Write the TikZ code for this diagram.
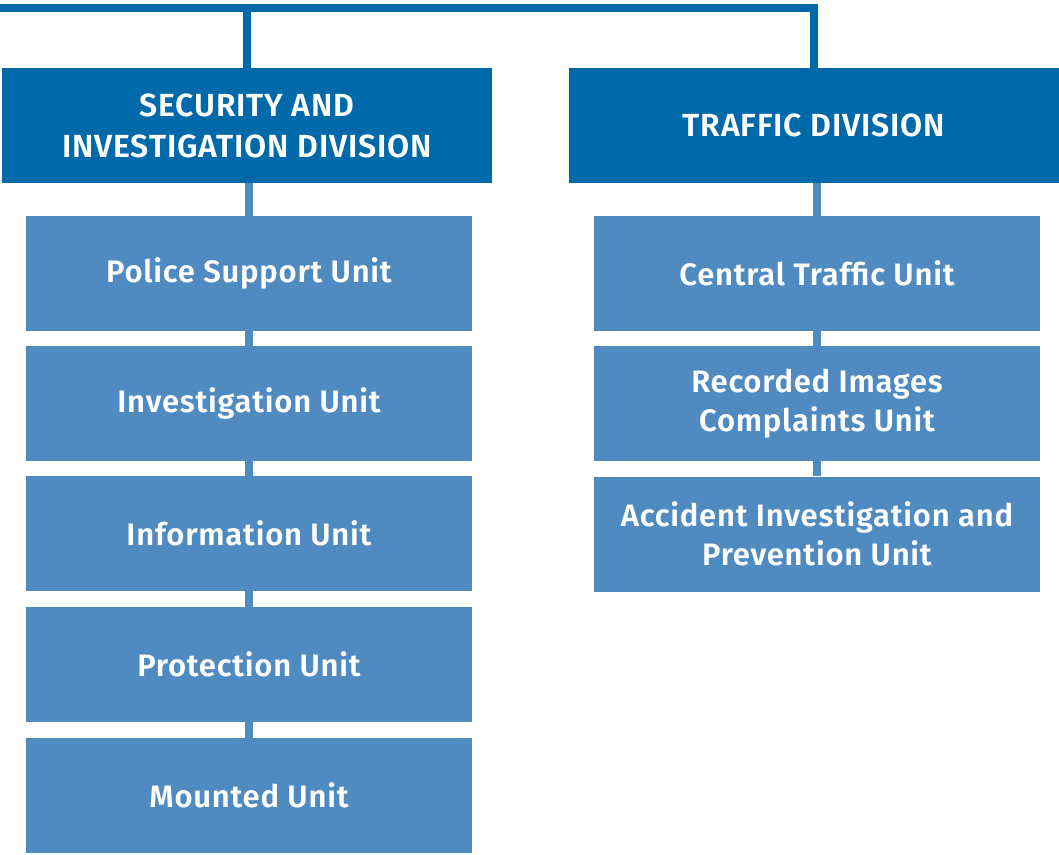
\documentclass[tikz,border=0pt]{standalone}
\usepackage{fontspec}
\setmainfont{Fira Sans}[BoldFont={Fira Sans SemiBold}, LetterSpace=2.5]
\usetikzlibrary{positioning}

\definecolor{divBlue}{RGB}{0,105,170}
\definecolor{unitBlue}{RGB}{79,139,192}

\begin{document}
\begin{tikzpicture}[
    x=1pt, y=-1pt,
    font=\fontsize{31pt}{39pt}\selectfont\bfseries,
    division/.style={
        rectangle,
        fill=divBlue,
        text=white,
        align=center,
        inner sep=0pt,
        minimum width=490pt,
        minimum height=115pt,
        font=\fontsize{32pt}{41pt}\selectfont\bfseries
    },
    unit/.style={
        rectangle,
        fill=unitBlue,
        text=white,
        align=center,
        inner sep=0pt,
        minimum width=446pt,
        minimum height=115pt
    },
    topLine/.style={
        draw=divBlue,
        line width=8pt
    },
    unitLine/.style={
        draw=unitBlue,
        line width=8pt
    }
]
\useasboundingbox (0,0) rectangle (1059,854);

% ==================== DIVISIONS ====================
\node[division] (divSec) at (247, 125.5) {SECURITY AND\\INVESTIGATION DIVISION};
\node[division] (divTraffic) at (814, 125.5) {TRAFFIC DIVISION};

\coordinate (topLeft) at (0, 7.5);
\draw[topLine] (topLeft) -| (divTraffic.north);
\draw[topLine] (divSec.north) -- (divSec.north |- topLeft);

% ==================== SECURITY UNITS ====================
\node[unit] (unitSupport) at (249, 273.5) {Police Support Unit};
\node[unit] (unitInvest) at (249, 403.5) {Investigation Unit};
\node[unit] (unitInfo) at (249, 533.5) {Information Unit};
\node[unit] (unitProtect) at (249, 664.5) {Protection Unit};
\node[unit] (unitMounted) at (249, 795.5) {Mounted Unit};

\draw[unitLine] (divSec.south -| unitSupport) -- (unitSupport.north);
\draw[unitLine] (unitSupport) -- (unitInvest);
\draw[unitLine] (unitInvest) -- (unitInfo);
\draw[unitLine] (unitInfo) -- (unitProtect);
\draw[unitLine] (unitProtect) -- (unitMounted);

% ==================== TRAFFIC UNITS ====================
\node[unit] (unitCentral) at (817, 273.5) {Central Traffic Unit};
\node[unit] (unitImages) at (817, 403.5) {Recorded Images\\Complaints Unit};
\node[unit] (unitAccident) at (817, 534) {Accident Investigation and\\Prevention Unit};

\draw[unitLine] (divTraffic.south -| unitCentral) -- (unitCentral.north);
\draw[unitLine] (unitCentral) -- (unitImages);
\draw[unitLine] (unitImages) -- (unitAccident);

\end{tikzpicture}
\end{document}
